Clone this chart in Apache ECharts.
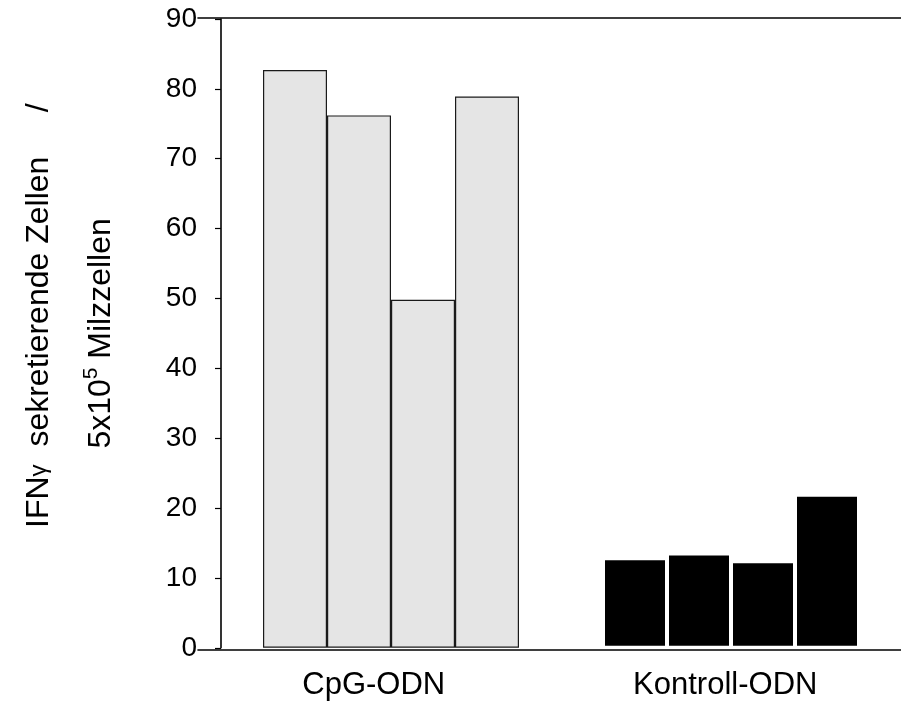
<!DOCTYPE html>
<html>
<head>
<meta charset="utf-8">
<script src="https://cdn.jsdelivr.net/npm/echarts@6/dist/echarts.min.js"></script>
<style>
html,body{margin:0;padding:0;background:#fff;}
#c{width:901px;height:706px;}
</style>
</head>
<body>
<div id="c"></div>
<script>
var categories = ['CpG-ODN', 'Kontroll-ODN'];
var cpgValues = [82.7, 76.2, 49.8, 78.9];
var kontrollValues = [12.8, 13.5, 12.4, 21.9];
var yTicks = { min: 0, max: 90, interval: 10 };

var FONT = '"Liberation Sans", Arial, Helvetica, sans-serif';
var cpgStyle = { color: '#e5e5e5', borderColor: '#1a1a1a', borderWidth: 1.2 };
var ctrlStyle = { color: '#000000', borderColor: '#ffffff', borderWidth: 2 };

var series = [];
for (var k = 0; k < cpgValues.length; k++) {
  series.push({
    type: 'bar',
    xAxisIndex: 2,
    yAxisIndex: 1,
    barWidth: 64,
    barGap: '0%',
    data: [
      { value: cpgValues[k], itemStyle: cpgStyle },
      { value: kontrollValues[k], itemStyle: ctrlStyle }
    ],
    animation: false
  });
}

var chart = echarts.init(document.getElementById('c'), null, { renderer: 'canvas' });
chart.setOption({
  backgroundColor: '#ffffff',
  animation: false,
  grid: [
    { left: 198, right: 0, top: 17.7, bottom: 56.7 },
    { left: 207.7, width: 703.3, top: 19, bottom: 58.2 }
  ],
  xAxis: [
    {
      gridIndex: 0, type: 'category', data: categories, position: 'bottom',
      axisLine: { show: true, lineStyle: { color: '#000', width: 1.6 } },
      axisTick: { show: false },
      axisLabel: { color: '#000', fontFamily: FONT, fontSize: 31, margin: 21 },
      splitLine: { show: false }
    },
    {
      gridIndex: 0, type: 'category', data: categories, position: 'top',
      axisLine: { show: true, lineStyle: { color: '#000', width: 1.6 } },
      axisTick: { show: false },
      axisLabel: { show: false },
      splitLine: { show: false }
    },
    {
      gridIndex: 1, type: 'category', data: categories, show: false
    }
  ],
  yAxis: [
    { gridIndex: 0, type: 'value', show: false, min: 0, max: 1 },
    {
      gridIndex: 1, type: 'value',
      min: yTicks.min, max: yTicks.max, interval: yTicks.interval,
      axisLine: { show: true, lineStyle: { color: '#000', width: 1.6 } },
      axisTick: { show: true, inside: false, length: 6, lineStyle: { color: '#000', width: 1.2 } },
      axisLabel: { color: '#000', fontFamily: FONT, fontSize: 28, margin: 24 },
      splitLine: { show: false },
      name: '{a|    IFN}{g|γ}{a|  sekretierende Zellen     /}\n{a|5x10}{s|5}{a| Milzzellen}',
      nameLocation: 'middle',
      nameRotate: 90,
      nameGap: 89,
      nameTextStyle: {
        color: '#000',
        fontFamily: FONT,
        fontSize: 32,
        lineHeight: 62,
        rich: {
          a: { fontFamily: FONT, fontSize: 32, lineHeight: 62, color: '#000' },
          g: { fontFamily: FONT, fontSize: 24, lineHeight: 62, color: '#000' },
          s: { fontFamily: FONT, fontSize: 21, lineHeight: 21, color: '#000', verticalAlign: 'middle', padding: [0, 0, 20, 0] }
        }
      }
    }
  ],
  series: series
});
</script>
</body>
</html>
